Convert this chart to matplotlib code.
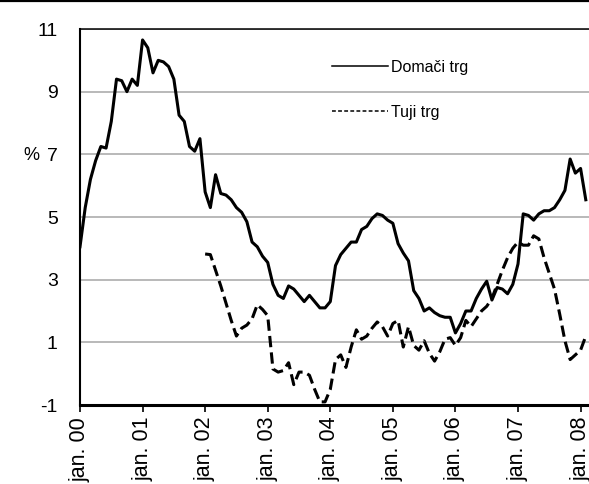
import numpy as np
import matplotlib
matplotlib.use('Agg')
from matplotlib import pyplot as plt
from matplotlib.lines import Line2D

# monthly values, jan 2000 - feb 2008
domaci = [4.05, 5.3, 6.2, 6.8, 7.25, 7.2, 8.05, 9.4, 9.35, 9.0,
          9.4, 9.2, 10.65, 10.4, 9.6, 10.0, 9.95, 9.8, 9.4, 8.25,
          8.05, 7.25, 7.1, 7.5, 5.8, 5.3, 6.35, 5.75, 5.7, 5.55,
          5.3, 5.15, 4.85, 4.2, 4.05, 3.75, 3.55, 2.85, 2.5, 2.4,
          2.8, 2.7, 2.5, 2.3, 2.5, 2.3, 2.1, 2.1, 2.3, 3.45,
          3.8, 4.0, 4.2, 4.2, 4.6, 4.7, 4.95, 5.1, 5.05, 4.9,
          4.8, 4.15, 3.85, 3.6, 2.65, 2.4, 2.0, 2.1, 1.95, 1.85,
          1.8, 1.8, 1.3, 1.6, 2.0, 2.0, 2.4, 2.7, 2.95, 2.35,
          2.75, 2.7, 2.55, 2.85, 3.5, 5.1, 5.05, 4.9, 5.1, 5.2,
          5.2, 5.3, 5.55, 5.85, 6.85, 6.4, 6.55, 5.55]

# starts jan 2002
tuji_start = 24
tuji = [3.82, 3.8, 3.3, 2.8, 2.25, 1.7, 1.2, 1.45, 1.55, 1.75,
        2.2, 2.05, 1.85, 0.15, 0.05, 0.1, 0.35, -0.35, 0.05, 0.05,
        -0.05, -0.5, -0.9, -0.9, -0.5, 0.45, 0.6, 0.2, 0.85, 1.4,
        1.1, 1.2, 1.45, 1.65, 1.5, 1.2, 1.6, 1.7, 0.85, 1.5,
        0.9, 0.75, 1.05, 0.65, 0.4, 0.7, 1.1, 1.15, 0.9, 1.15,
        1.7, 1.5, 1.75, 2.0, 2.15, 2.4, 2.85, 3.3, 3.7, 4.0,
        4.2, 4.1, 4.1, 4.4, 4.3, 3.7, 3.2, 2.7, 1.9, 1.05,
        0.45, 0.6, 0.75, 1.2]

years = ['00', '01', '02', '03', '04', '05', '06', '07', '08']
tick_labels = ['jan. ' + y for y in years]
series_names = ['Domači trg', 'Tuji trg']

plt.rcParams['font.family'] = ['Liberation Sans', 'DejaVu Sans']
plt.rcParams['axes.unicode_minus'] = False

W, H = 589, 484
fig = plt.figure(figsize=(W / 100, H / 100), dpi=100)
ax = fig.add_axes([80 / W, 79 / H, 511 / W, 376 / H])

months = np.arange(len(domaci))
ax.plot(months, domaci, color='black', lw=2.2)
tuji_months = np.arange(tuji_start, tuji_start + len(tuji))
ax.plot(tuji_months, tuji, color='black', lw=2.2, dashes=(3.7, 1.7))

ax.set_xlim(0, 98)
ax.set_ylim(-1, 11)
ax.set_yticks(range(-1, 12, 2))
ax.yaxis.grid(True, color='#a6a6a6', lw=1.1)
ax.set_axisbelow(True)
ax.tick_params(axis='y', length=0, pad=16, labelsize=14)

ax.set_xticks(np.arange(0, 97, 12))
ax.set_xticklabels(tick_labels, rotation=90, va='top', ha='center')
ax.tick_params(axis='x', length=5, width=1.2, direction='out', pad=3.5, labelsize=15.5)

ax.spines['right'].set_visible(False)
ax.spines['left'].set_linewidth(1.5)
ax.spines['bottom'].set_linewidth(2.2)
ax.spines['top'].set_linewidth(1.1)

fig.text(31 / W, 1 - 155 / H, '%', ha='center', va='center', fontsize=13)

# black rule at the very top
fig.add_artist(Line2D([0, 1], [1 - 1 / H, 1 - 1 / H], transform=fig.transFigure,
                      color='black', lw=1.6))

handles = [Line2D([], [], color='black', lw=1.1),
           Line2D([], [], color='black', lw=1.1, dashes=(2.5, 1.5))]
ax.legend(handles, series_names, loc='upper left', frameon=False,
          bbox_to_anchor=(332 / W, 1 - 60 / H), bbox_transform=fig.transFigure,
          borderpad=0, borderaxespad=0, handlelength=3.5, handletextpad=0.2,
          labelspacing=1.85, fontsize=11.5)

fig.savefig('out.png', dpi=100)
